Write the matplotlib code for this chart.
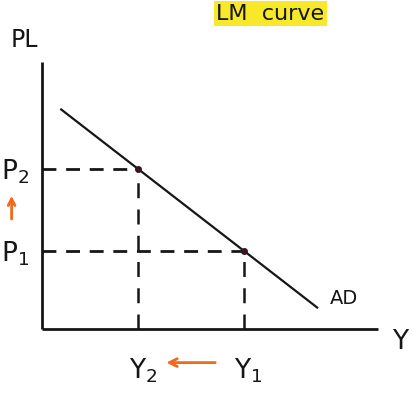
import matplotlib.pyplot as plt

# Output (Y) and price level (PL) values for the AD diagram
ad_y = [0.6, 8.6]
ad_pl = [6.86, 0.67]
y_levels = [6.3, 3.0]          # Y1, Y2
p_levels = [2.45, 5.0]         # P1, P2
y_labels = ["Y$_1$", "Y$_2$"]
p_labels = ["P$_1$", "P$_2$"]

W, H, DPI = 413, 394, 100
unit = 32.0                    # pixels per data unit
ox, oy = 42, 329               # origin in pixels

fig = plt.figure(figsize=(W / DPI, H / DPI), dpi=DPI)
ax = fig.add_axes([0, 0, 1, 1])
ax.set_xlim(-ox / unit, (W - ox) / unit)
ax.set_ylim(-(H - oy) / unit, oy / unit)
ax.axis("off")

ink = "#161616"
font = dict(family=["DejaVu Sans"], color=ink)

# axes
x_max, y_max = 10.5, 8.35
ax.plot([0, 0], [0, y_max], color=ink, lw=2.0, solid_capstyle="butt")
ax.plot([0, x_max], [0, 0], color=ink, lw=2.0, solid_capstyle="butt")

# AD curve
ax.plot(ad_y, ad_pl, color=ink, lw=1.6)

# guide lines to the equilibrium points
for yv, pv in zip(y_levels, p_levels):
    ax.plot([0, yv], [pv, pv], color=ink, lw=2.0, dashes=(5, 3.5))
    ax.plot([yv, yv], [0, pv], color=ink, lw=1.8, dashes=(6, 4.5))
    ax.plot([yv], [pv], "o", color="#3a1520", ms=4)

# axis titles
ax.text(-0.55, y_max + 0.3, "PL", fontsize=17, ha="center", va="bottom", **font)
ax.text(x_max + 0.7, -0.4, "Y", fontsize=19, ha="center", va="center", **font)
ax.text(9.45, 0.95, "AD", fontsize=14, ha="center", va="center", **font)

# level labels
for yv, lab in zip(y_levels, y_labels):
    ax.text(yv + 0.15, -1.3, lab, fontsize=19, ha="center", va="center", **font)
for pv, lab in zip(p_levels, p_labels):
    ax.text(-0.85, pv - 0.1, lab, fontsize=19, ha="center", va="center", **font)

# orange arrows showing the shift
orange = "#f06a1c"
ax.annotate("", xy=(3.8, -1.05), xytext=(5.5, -1.05),
            arrowprops=dict(arrowstyle="->", color=orange, lw=2.0,
                            mutation_scale=14))
ax.annotate("", xy=(-0.95, 4.25), xytext=(-0.95, 3.35),
            arrowprops=dict(arrowstyle="->", color=orange, lw=2.0,
                            mutation_scale=12))

# highlighted heading
ax.text(5.45, 9.85, "LM  curve", fontsize=16, ha="left", va="center",
        **font,
        bbox=dict(boxstyle="square,pad=0.12", fc="#f7e92a", ec="none"))

fig.savefig("out.png", dpi=DPI)
